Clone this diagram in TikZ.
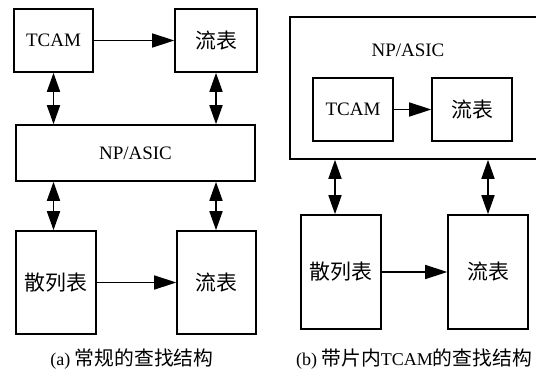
\documentclass[tikz,border=0pt]{standalone}
\usepackage{fontspec}
\setmainfont{Liberation Serif}
\newfontfamily\cjk[Scale=1.1]{Noto Sans CJK SC}
\usetikzlibrary{arrows.meta}
\begin{document}
\begin{tikzpicture}[x=1pt,y=1pt,
  font=\fontsize{19}{21}\selectfont,
  blk/.style={draw=black,line width=1.6pt,rectangle,inner sep=0pt,align=center},
  tip/.style={-{Triangle[length=22pt,width=14pt]},line width=1.7pt},
  dbl/.style={{Triangle[length=19pt,width=13pt]}-{Triangle[length=19pt,width=13pt]},line width=1.7pt},
  captext/.style={inner sep=0pt,font=\fontsize{18}{20}\selectfont}]
\useasboundingbox (0,0) rectangle (536,-372);
\fill[white] (0,0) rectangle (536,-372);

% (a) conventional lookup
\node[blk,minimum width=79pt,minimum height=63pt] (tcamA) at (53.5,-40.5) {TCAM};
\node[blk,minimum width=82pt,minimum height=63pt] (flowA1) at (216,-40.5) {\cjk 流表};
\node[blk,minimum width=239pt,minimum height=56pt] (npA) at (135.5,-153) {NP/ASIC};
\node[blk,minimum width=80pt,minimum height=103pt] (hashA) at (56,-282.5) {\cjk 散列表};
\node[blk,minimum width=79pt,minimum height=103pt] (flowA2) at (216.5,-282.5) {\cjk 流表};

\draw[tip] (tcamA.east) -- (flowA1.west);
\draw[tip] (hashA.east) -- (flowA2.west);
\draw[dbl] (tcamA.south) -- (tcamA.south |- npA.north);
\draw[dbl] (flowA1.south) -- (flowA1.south |- npA.north);
\draw[dbl] (npA.south -| tcamA.south) -- (hashA.north -| tcamA.south);
\draw[dbl] (npA.south -| flowA1.south) -- (flowA2.north -| flowA1.south);

\node[captext] (capA) at (132,-359) {(a) {\cjk 常规的查找结构}};

% (b) lookup with on-chip TCAM
\node[blk,minimum width=252pt,minimum height=142pt] (npB) at (416,-88) {};
\node[inner sep=0pt] (npBlabel) at (408,-50) {NP/ASIC};
\node[blk,minimum width=80pt,minimum height=63pt] (tcamB) at (353,-109.5) {TCAM};
\node[blk,minimum width=80pt,minimum height=63pt] (flowB1) at (472,-109.5) {\cjk 流表};
\node[blk,minimum width=80pt,minimum height=114pt] (hashB) at (341,-272) {\cjk 散列表};
\node[blk,minimum width=80pt,minimum height=114pt] (flowB2) at (488,-272) {\cjk 流表};

\coordinate (lb) at (335,0);
\draw[tip] (tcamB.east) -- (flowB1.west);
\draw[tip] (hashB.east) -- (flowB2.west);
\draw[dbl] (npB.south -| lb) -- (hashB.north -| lb);
\draw[dbl] (npB.south -| flowB2.north) -- (flowB2.north);

\node[captext] (capB) at (414,-359) {(b) {\cjk 带片内}TCAM{\cjk 的查找结构}};
\end{tikzpicture}
\end{document}
